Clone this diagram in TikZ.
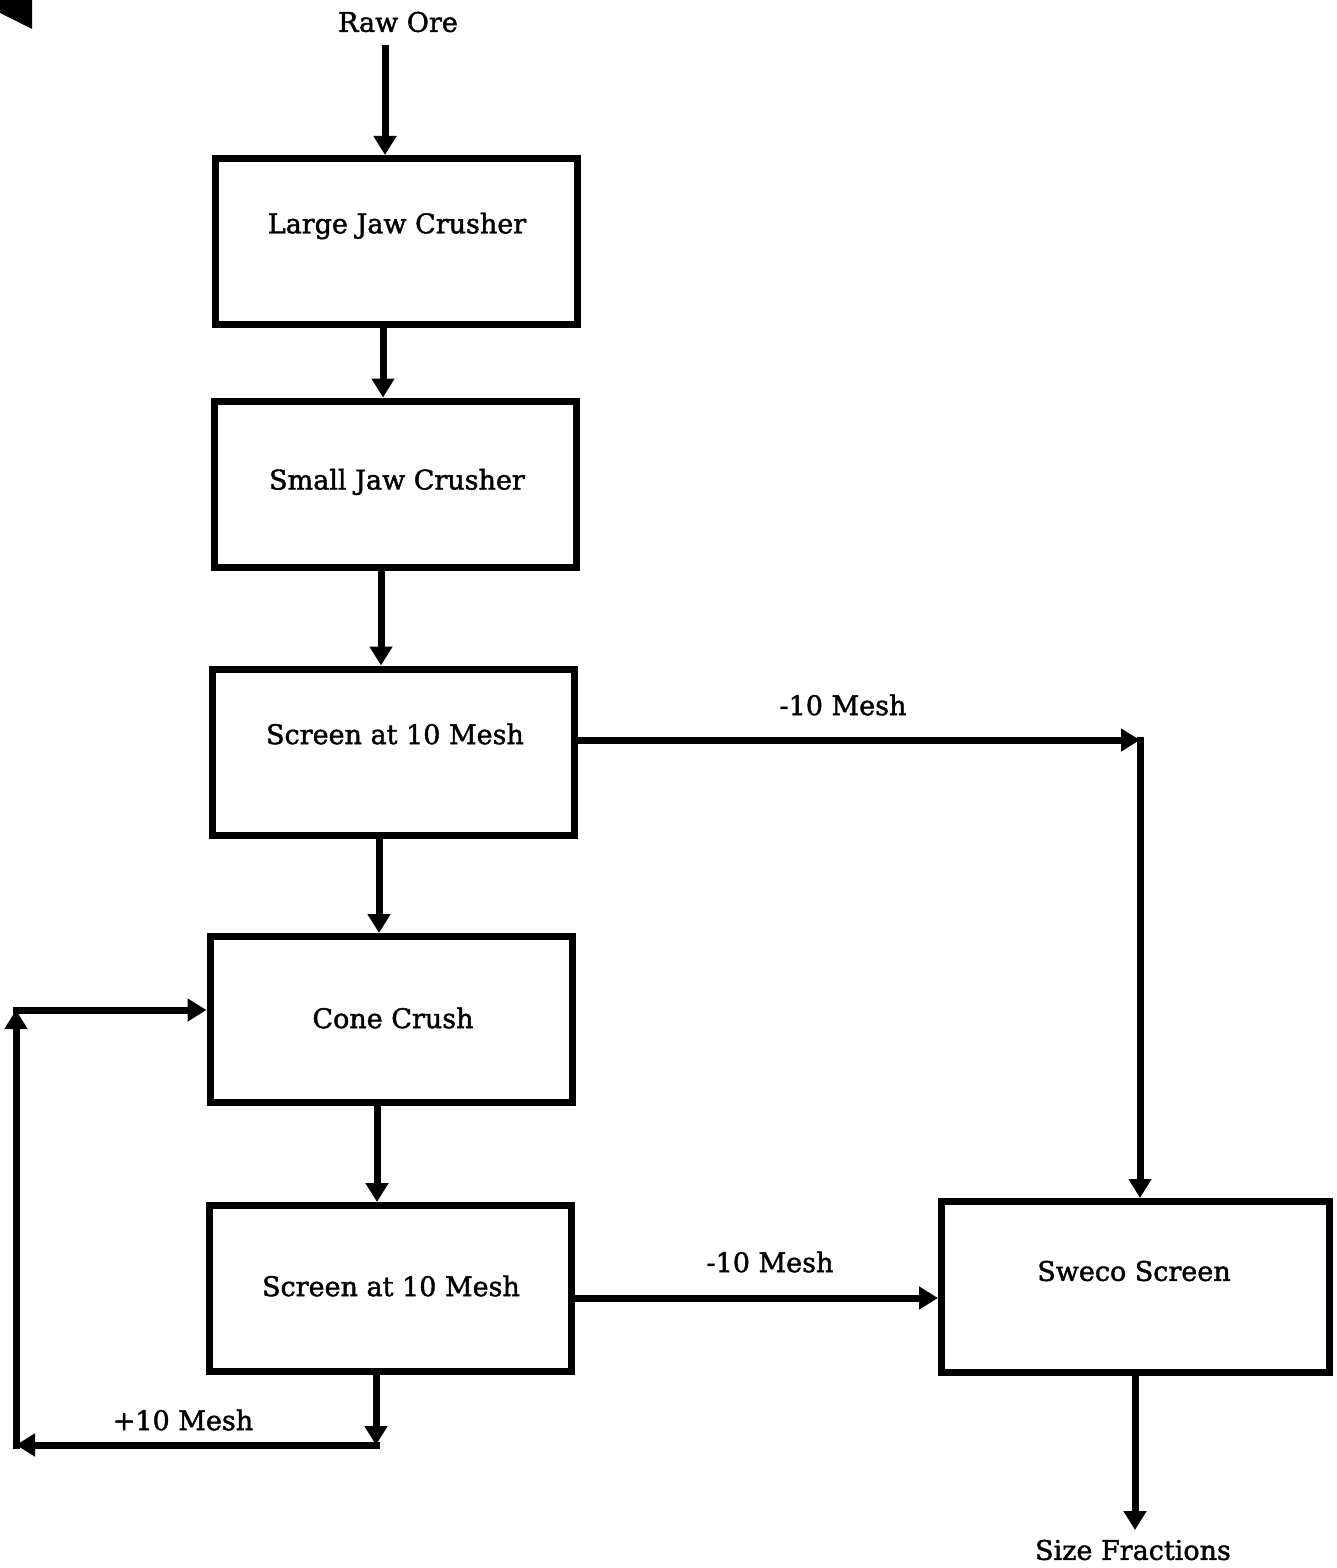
\documentclass[tikz,border=0pt]{standalone}
\usepackage{fontspec}
\setmainfont[FakeBold=1.6]{DejaVu Serif}
\usetikzlibrary{arrows.meta}
\tikzset{
  box/.style={draw, line width=3.5pt, inner sep=0pt, minimum width=181pt, minimum height=83pt},
  lbl/.style={font=\fontsize{13.5}{16}\selectfont, inner sep=0pt},
  arr/.style={line width=3.5pt, -{Triangle[length=9.5pt,width=11pt]}},
  ln/.style={line width=3.5pt},
}
\begin{document}
\begin{tikzpicture}[x=0.5pt,y=-0.5pt]
\useasboundingbox (0,0) rectangle (1337,1568);
% scan artifact wedge
\fill (0,0) -- (32,0) -- (32,29) -- (0,13) -- cycle;

% boxes
\node[box] (b1) at (396.5,241.5) {};
\node[box] (b2) at (395,484) {};
\node[box] (b3) at (393,752) {};
\node[box] (b4) at (391,1019.5) {};
\node[box] (b5) at (390,1288.5) {};
\node[box, minimum width=194pt, minimum height=85.5pt] (b6) at (1135.5,1287) {};

% texts
\node[lbl] (raw) at (398,22) {Raw Ore};
\node[lbl] (t1) at (397,226) {Large Jaw Crusher};
\node[lbl] (t2) at (397,482) {Small Jaw Crusher};
\node[lbl] (t3) at (395,734) {Screen at 10 Mesh};
\node[lbl] (t4) at (393,1018) {Cone Crush};
\node[lbl] (t5) at (391,1286) {Screen at 10 Mesh};
\node[lbl] (t6) at (1134,1271) {Sweco Screen};
\node[lbl] (m1) at (843,705) {-10 Mesh};
\node[lbl] (m2) at (770,1262) {-10 Mesh};
\node[lbl] (m3) at (183,1420) {+10 Mesh};
\node[lbl] (sf) at (1133,1550) {Size Fractions};

% helper coordinates
\coordinate (c0) at (385,45);
\coordinate (x1) at (383,0);
\coordinate (x2) at (381,0);
\coordinate (x3) at (379,0);
\coordinate (x4) at (377,0);
\coordinate (y3) at (0,740);
\coordinate (k1) at (1140,740);
\coordinate (y5) at (0,1298);
\coordinate (lp1) at (376,1445);
\coordinate (lp2) at (16,1445);
\coordinate (lp3) at (16,1010);
\coordinate (sfx) at (1135,1530);

% main column
\draw[arr] (c0) -- (c0 |- b1.north);
\draw[arr] (b1.south -| x1) -- (b2.north -| x1);
\draw[arr] (b2.south -| x2) -- (b3.north -| x2);
\draw[arr] (b3.south -| x3) -- (b4.north -| x3);
\draw[arr] (b4.south -| x4) -- (b5.north -| x4);

% -10 mesh from first screen
\draw[arr] (b3.east |- y3) -- (k1);
\draw[arr] ([yshift=1.75pt]k1) -- (k1 |- b6.north);

% -10 mesh from second screen
\draw[arr] (b5.east |- y5) -- (b6.west |- y5);

% +10 mesh recycle loop
\draw[arr] (b5.south -| lp1) -- (lp1);
\draw[arr] ([xshift=1.75pt]lp1) -- (lp2);
\draw[ln] ([xshift=-1.75pt]lp2) -- ++(3.5,0);
\draw[arr] ([yshift=-1.75pt]lp2) -- (lp3);
\draw[arr] ([xshift=-1.75pt]lp3) -- (b4.west |- lp3);

% output
\draw[arr] (b6.south -| sfx) -- (sfx);
\end{tikzpicture}
\end{document}
